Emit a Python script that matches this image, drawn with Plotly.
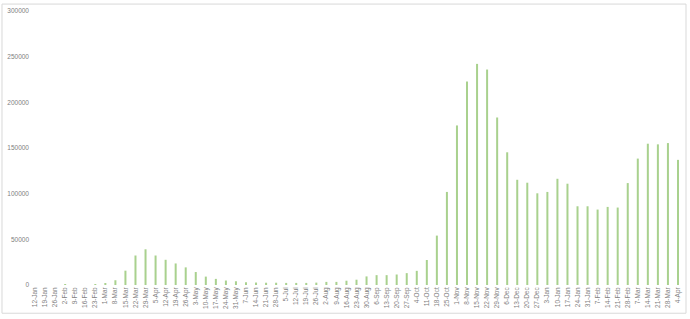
import plotly.graph_objects as go

weeks = ["12-Jan","19-Jan","26-Jan","2-Feb","9-Feb","16-Feb","23-Feb","1-Mar","8-Mar","15-Mar",
         "22-Mar","29-Mar","5-Apr","12-Apr","19-Apr","26-Apr","3-May","10-May","17-May","24-May",
         "31-May","7-Jun","14-Jun","21-Jun","28-Jun","5-Jul","12-Jul","19-Jul","26-Jul","2-Aug",
         "9-Aug","16-Aug","23-Aug","30-Aug","6-Sep","13-Sep","20-Sep","27-Sep","4-Oct","11-Oct",
         "18-Oct","25-Oct","1-Nov","8-Nov","15-Nov","22-Nov","29-Nov","6-Dec","13-Dec","20-Dec",
         "27-Dec","3-Jan","10-Jan","17-Jan","24-Jan","31-Jan","7-Feb","14-Feb","21-Feb","28-Feb",
         "7-Mar","14-Mar","21-Mar","28-Mar","4-Apr"]

cases = [0, 0, 0, 900, 0, 0, 900, 1200, 5200, 15700,
         32300, 39100, 32300, 27600, 23600, 19300, 14200, 9200, 6700, 4900,
         4100, 3000, 2700, 2500, 2500, 2300, 2300, 2300, 2600, 3400,
         3400, 4700, 5800, 9400, 10800, 10800, 11500, 13000, 15500, 27400,
         54100, 101900, 174700, 222800, 242100, 235900, 183400, 145300, 115200, 112000,
         100400, 101900, 116300, 110900, 86200, 86200, 82600, 85500, 84800, 111600,
         138400, 154700, 154000, 155400, 137000]

y_ticks = [0, 50000, 100000, 150000, 200000, 250000, 300000]

fig = go.Figure(go.Bar(x=weeks, y=cases, marker=dict(color="#A9D18E", line=dict(width=0))))

fig.update_layout(
    width=690, height=319,
    margin=dict(l=30, r=7, t=9, b=34),
    paper_bgcolor="white", plot_bgcolor="white",
    bargap=0.8, showlegend=False,
    font=dict(family="Liberation Sans, Arial, sans-serif", color="#808080", size=7),
    xaxis=dict(type="category", tickangle=-90, tickfont=dict(size=6.5, color="#808080"),
               showgrid=False, showline=False, ticks="", zeroline=False, ticklen=0),
    yaxis=dict(range=[0, 300000], tickvals=y_ticks, ticktext=[str(v) for v in y_ticks],
               tickfont=dict(size=6.5, color="#808080"), showgrid=False, showline=False,
               zeroline=False, ticks="", ticklen=0),
    shapes=[dict(type="rect", xref="paper", yref="paper",
                 x0=-0.0429, x1=1.0046, y0=-0.103, y1=1.0253,
                 line=dict(color="#d9d9d9", width=1), fillcolor="rgba(0,0,0,0)", layer="below")],
)

fig.write_html("out.html")
